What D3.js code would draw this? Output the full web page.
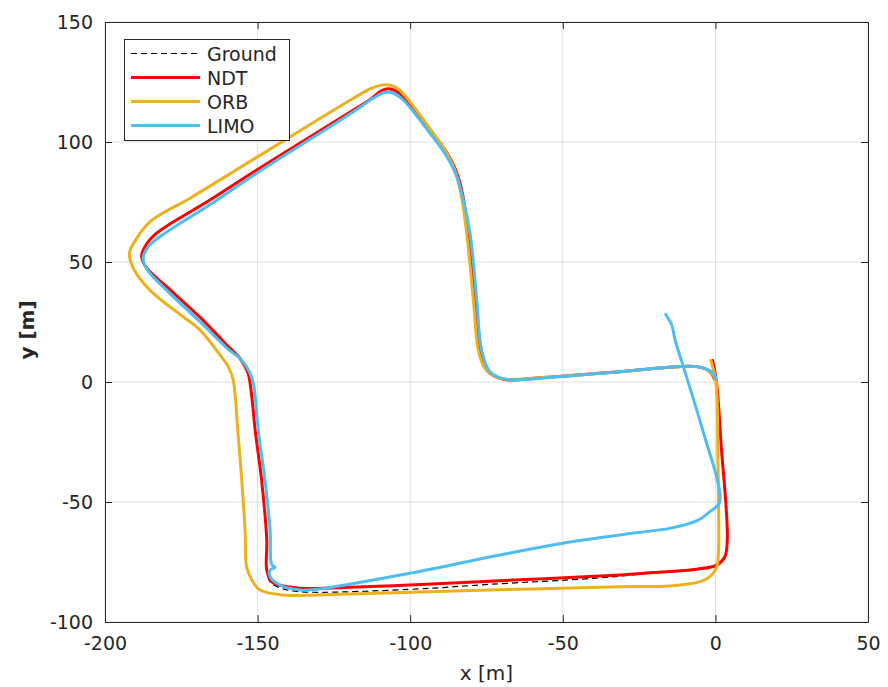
<!DOCTYPE html>
<html><head><meta charset="utf-8">
<script src="https://cdn.jsdelivr.net/npm/d3@7"></script>
<style>
html,body{margin:0;padding:0;background:#fff;}
svg{display:block;font-family:"DejaVu Sans",sans-serif;}
</style></head>
<body><svg id="c" width="888" height="687"></svg>
<script>
const xTicks = [-200, -150, -100, -50, 0, 50];
const yTicks = [-100, -50, 0, 50, 100, 150];
const seriesNames = ["Ground", "NDT", "ORB", "LIMO"];

const groundX = [-1.0, 0.4, 2.0, 3.5, 3.9, 3.1, 0.4, -6.1, -20.4, -40, -73.9, -100.1, -136.1, -142, -145.8, -147, -147, -148.7, -150.8, -152, -153.2, -155.8, -159, -168.9, -179.8, -186.3, -188, -186.9, -183.1, -165.6, -150.3, -118.6, -113, -109.5, -107, -104, -100.1, -93.5, -88.5, -85, -82.8, -81, -78.8, -77.1, -75, -69.5, -57.5, -31.3, -6.1, -1.8, -0.2];
const groundY = [9.5, -0.5, -28.3, -52, -65.8, -72.8, -76.3, -78.0, -79.6, -81.8, -84.3, -86.4, -87.4, -86.0, -83.5, -78.3, -65.8, -40.8, -20, -5, 4, 9.9, 14, 27, 39.7, 47.4, 52.2, 56.4, 62, 75.8, 88.3, 113.3, 117.8, 121.3, 122.2, 120.7, 115.4, 105, 96.5, 88, 78, 62, 34.2, 13.3, 5, 1.1, 1.8, 4.3, 6.4, 4.3, 0.8];

const ndtX = [-1.0, 0.4, 2.0, 3.5, 3.9, 3.1, 0.4, -6.1, -20.4, -31.3, -70.6, -100.1, -130.6, -135, -141.6, -145.4, -147, -147, -148.7, -150.8, -152, -153.2, -155.8, -159, -168.9, -179.8, -186.3, -188, -186.9, -183.1, -165.6, -150.3, -118.6, -113, -109.5, -107, -104, -100.1, -93.5, -88.5, -85, -82.8, -81, -78.8, -77.1, -75, -69.5, -57.5, -31.3, -6.1, -1.8, -0.2];
const ndtY = [9.5, -0.5, -28.3, -52, -65.8, -72.8, -76.3, -78.0, -79.4, -80.4, -82.8, -84.6, -86.0, -86.0, -85.0, -83.2, -78.3, -65.8, -40.8, -20, -5, 4, 9.9, 14, 27, 39.7, 47.4, 52.2, 56.4, 62, 75.8, 88.3, 113.3, 117.8, 121.3, 122.2, 120.7, 115.4, 105, 96.5, 88, 78, 62, 34.2, 13.3, 5, 1.1, 1.8, 4.3, 6.4, 4.3, 0.8];

const orbX = [-1.6, 0.2, 0.8, 1.0, 1.0, 0.3, -1.8, -5, -14.9, -31.3, -73.9, -119.7, -141.6, -149.2, -151.9, -153.6, -154.1, -155.2, -156.5, -158, -159.6, -162.3, -168.9, -174.4, -185.3, -190.7, -192, -189.8, -185, -172, -150.3, -118.6, -113, -109.5, -106.5, -104, -100.1, -93.5, -88.8, -85.3, -83.3, -81.5, -79.3, -77.7, -75.5, -70.6, -57.5, -31.3, -6.1, -1.8, 0.2, 0.6];
const orbY = [9.5, -0.5, -30, -49.2, -71.4, -77.5, -81.1, -83.2, -85.0, -85.3, -86.7, -88.3, -88.75, -86.7, -82.5, -77, -61.7, -40.8, -20, 0.8, 6.4, 11.25, 21.7, 27.2, 38.3, 47.4, 53.6, 59.5, 67, 76.7, 93.6, 118.2, 122.2, 123.7, 123.7, 122.2, 116.8, 105.5, 97, 88, 78, 62, 34.2, 13.3, 5.7, 1.5, 1.8, 4.3, 6.4, 4.3, 0.5, -3];

const limoX = [-16.5, -14.3, -13.2, -10.5, -6.1, -2.9, -0.2, 1.3, 1.3, -1.8, -6, -14.9, -24.7, -31.3, -50, -70.6, -100.1, -130.6, -136.1, -142.7, -145.9, -145.9, -144.3, -145.4, -145.9, -147.6, -149.8, -151.4, -153, -155.8, -159.2, -168.9, -180, -186, -187.5, -185.8, -182, -164.5, -150.3, -118.6, -112, -108.5, -105.5, -102.3, -93.5, -88.8, -85.2, -82.8, -80.4, -78.2, -76.6, -73.9, -68.4, -57.5, -31.3, -6.1, -1.3, 0.4];
const limoY = [28.6, 23.75, 17.5, 6.4, -11.7, -25.5, -36.7, -45, -50.5, -54, -57.8, -61, -62.6, -63.75, -67.2, -72.1, -79.7, -86.4, -86.7, -84.6, -81.1, -78.3, -77.3, -76, -61.7, -40.8, -20, -0.5, 5, 9.9, 13.2, 25.1, 38.5, 46.5, 51.5, 56.4, 60.5, 74.8, 87, 112.6, 118.3, 120.6, 120.3, 117.5, 103.6, 95.5, 87, 77, 62, 34.2, 13.3, 4.3, 1.1, 1.5, 4.3, 6.4, 4.3, 0.8];

const m = {left: 105, right: 868, top: 22, bottom: 622};
const svg = d3.select("#c");
const x = d3.scaleLinear().domain([-200, 50]).range([m.left, m.right]);
const y = d3.scaleLinear().domain([-100, 150]).range([m.bottom, m.top]);
const axisColor = "#262626";
const fs = 19;
const fmt = d => String(d);

// grid
const g = svg.append("g");
g.selectAll("line.gx").data(xTicks).enter().append("line")
  .attr("x1", d => x(d)).attr("x2", d => x(d)).attr("y1", m.top).attr("y2", m.bottom)
  .attr("stroke", "#dfdfdf").attr("stroke-width", 1);
g.selectAll("line.gy").data(yTicks).enter().append("line")
  .attr("y1", d => y(d)).attr("y2", d => y(d)).attr("x1", m.left).attr("x2", m.right)
  .attr("stroke", "#dfdfdf").attr("stroke-width", 1);

svg.append("clipPath").attr("id", "clip").append("rect")
  .attr("x", m.left).attr("y", m.top).attr("width", m.right - m.left).attr("height", m.bottom - m.top);

const line = d3.line().x(d => x(d[0])).y(d => y(d[1])).curve(d3.curveCatmullRom.alpha(0.5));
const zip = (a, b) => a.map((v, i) => [v, b[i]]);
const plot = svg.append("g").attr("clip-path", "url(#clip)");
plot.append("path").datum(zip(groundX, groundY)).attr("d", line)
  .attr("fill", "none").attr("stroke", "#000").attr("stroke-width", 1.2).attr("stroke-dasharray", "6,4");
plot.append("path").datum(zip(ndtX, ndtY)).attr("d", line)
  .attr("fill", "none").attr("stroke", "#ff0000").attr("stroke-width", 3).attr("stroke-linejoin", "round");
plot.append("path").datum(zip(orbX, orbY)).attr("d", line)
  .attr("fill", "none").attr("stroke", "#edb120").attr("stroke-width", 3).attr("stroke-linejoin", "round");
plot.append("path").datum(zip(limoX, limoY)).attr("d", line)
  .attr("fill", "none").attr("stroke", "#4dbeee").attr("stroke-width", 3).attr("stroke-linejoin", "round");

const xAxis = d3.axisBottom(x).tickValues(xTicks).tickFormat(fmt).tickSizeInner(-7).tickSizeOuter(0).tickPadding(15);
const yAxis = d3.axisLeft(y).tickValues(yTicks).tickFormat(fmt).tickSizeInner(-7).tickSizeOuter(0).tickPadding(12);
const xTop = d3.axisTop(x).tickValues(xTicks).tickSizeInner(-7).tickSizeOuter(0).tickFormat("");
const yRight = d3.axisRight(y).tickValues(yTicks).tickSizeInner(-7).tickSizeOuter(0).tickFormat("");
function style(sel) {
  sel.selectAll("path.domain").attr("stroke", axisColor).attr("stroke-width", 1);
  sel.selectAll(".tick line").attr("stroke", axisColor).attr("stroke-width", 1);
  sel.selectAll(".tick text").attr("fill", axisColor).attr("font-size", fs)
    .attr("font-family", '"DejaVu Sans",sans-serif');
}
svg.append("g").attr("transform", `translate(0,${m.bottom})`).call(xAxis).call(style);
svg.append("g").attr("transform", `translate(${m.left},0)`).call(yAxis).call(style);
svg.append("g").attr("transform", `translate(0,${m.top})`).call(xTop).call(style);
svg.append("g").attr("transform", `translate(${m.right},0)`).call(yRight).call(style);

svg.append("text").attr("x", (m.left + m.right) / 2).attr("y", 680)
  .attr("text-anchor", "middle").attr("font-size", 20).attr("fill", axisColor).text("x [m]");
svg.append("text").attr("transform", `translate(34,${(m.top + m.bottom) / 2 + 8}) rotate(-90)`)
  .attr("text-anchor", "middle").attr("font-size", 20).attr("font-weight", "bold").attr("fill", axisColor).text("y [m]");

const lg = svg.append("g");
lg.append("rect").attr("x", 124.5).attr("y", 39.5).attr("width", 165).attr("height", 101)
  .attr("fill", "#fff").attr("stroke", axisColor).attr("stroke-width", 1);
const legStyles = [
  {c: "#000", w: 1.2, dash: "6,4"},
  {c: "#ff0000", w: 3, dash: null},
  {c: "#edb120", w: 3, dash: null},
  {c: "#4dbeee", w: 3, dash: null}
];
seriesNames.forEach((n, i) => {
  const yy = 53.5 + i * 24;
  const l = lg.append("line").attr("x1", 131).attr("x2", 200).attr("y1", yy).attr("y2", yy)
    .attr("stroke", legStyles[i].c).attr("stroke-width", legStyles[i].w);
  if (legStyles[i].dash) l.attr("stroke-dasharray", legStyles[i].dash);
  lg.append("text").attr("x", 207).attr("y", yy + 7).attr("font-size", 19).attr("fill", axisColor).text(n);
});
</script></body></html>
